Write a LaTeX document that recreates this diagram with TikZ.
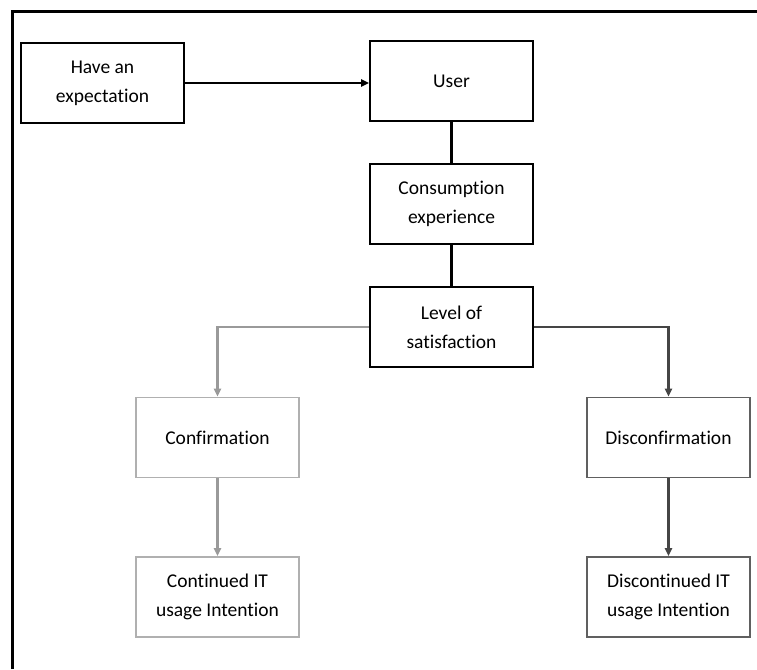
\documentclass[tikz,border=0pt]{standalone}
\usepackage{fontspec}
\setmainfont{Carlito}[Ligatures={NoCommon,NoContextual}]
\usetikzlibrary{arrows.meta}
\definecolor{lightline}{HTML}{9A9A9A}
\definecolor{lightbox}{HTML}{B0B0B0}
\definecolor{darkline}{HTML}{454545}
\definecolor{darkbox}{HTML}{606060}
\begin{document}
\begin{tikzpicture}[x=1pt,y=-1pt,
  box/.style={draw=black,line width=1.6pt,minimum width=163pt,minimum height=80pt,
    align=center,inner sep=0pt,font=\fontsize{19.5}{29}\selectfont},
  lbox/.style={box,draw=lightbox},
  dbox/.style={box,draw=darkbox},
  conn/.style={line width=2.5pt},
  arr/.style={conn,-{Triangle[length=8pt,width=7pt]}}]
\useasboundingbox (0,0) rectangle (757,669);
\draw[line width=3pt] (12,669) -- (12,12) -- (757,12);
\node[box] (exp) at (102.5,83) {Have an\\expectation};
\node[box] (user) at (451.5,81) {User};
\node[box] (cons) at (451.5,204) {Consumption\\experience};
\node[box] (lev) at (451.5,327) {Level of\\satisfaction};
\node[lbox] (conf) at (217.5,437.5) {Confirmation};
\node[lbox] (cont) at (217.5,597) {Continued IT\\usage Intention};
\node[dbox] (disc) at (668.5,437.5) {Disconfirmation};
\node[dbox] (dcont) at (668.5,597) {Discontinued IT\\usage Intention};
\draw[arr] (exp.east) -- (exp.east -| user.west);
\draw[conn] (user) -- (cons);
\draw[conn] (cons) -- (lev);
\draw[arr,lightline] (lev.west) -| (conf.north);
\draw[arr,lightline] (conf) -- (cont);
\draw[arr,darkline] (lev.east) -| (disc.north);
\draw[arr,darkline] (disc) -- (dcont);
\end{tikzpicture}
\end{document}
